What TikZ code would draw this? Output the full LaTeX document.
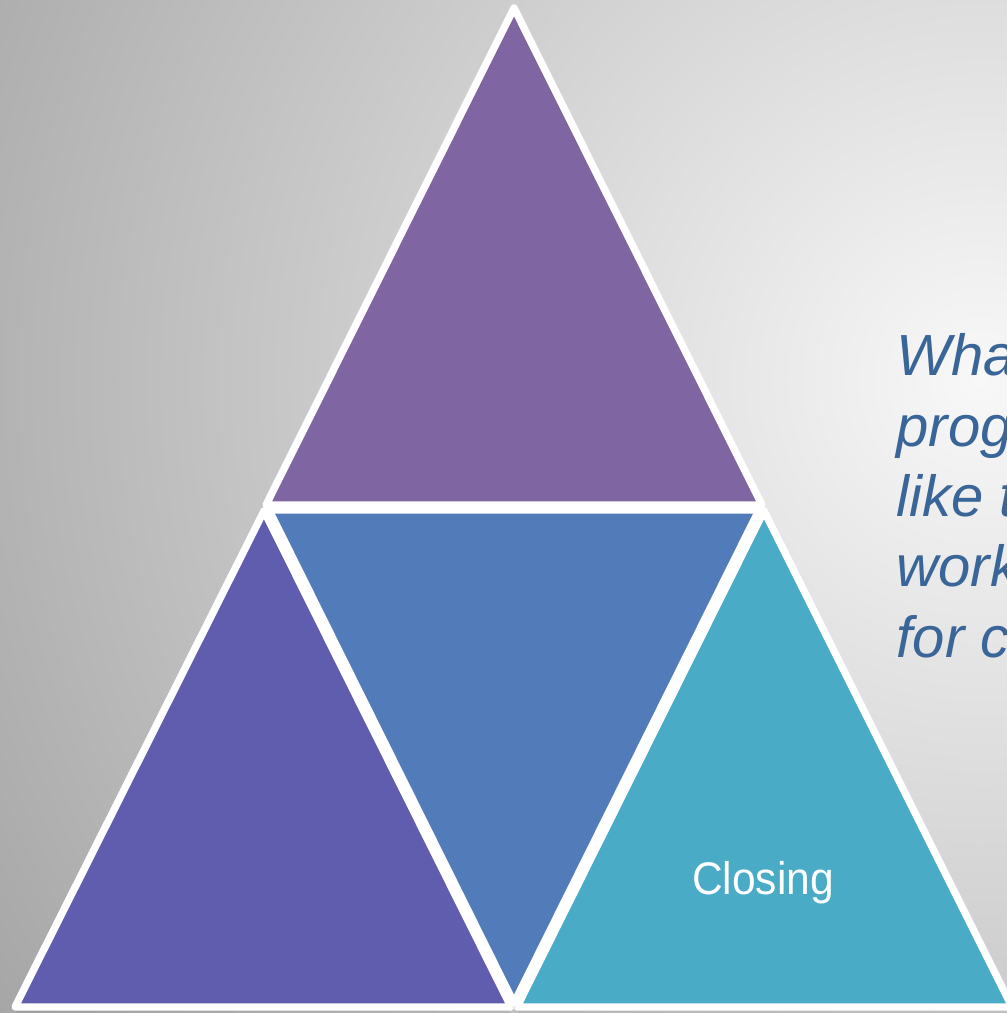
\documentclass[tikz,border=0pt]{standalone}
\usepackage{fontspec}
\setmainfont{Liberation Sans}
\newfontfamily\narrowsans[FakeStretch=0.93]{Liberation Sans}
\usetikzlibrary{shadows}

\definecolor{toppurple}{HTML}{8065A3}
\definecolor{leftviolet}{HTML}{605CAE}
\definecolor{midblue}{HTML}{527BBA}
\definecolor{rightteal}{HTML}{4AABC6}
\definecolor{asktext}{HTML}{3A6598}
\definecolor{backlight}{HTML}{F8F8F8}
\definecolor{backdark}{HTML}{A6A6A6}

\pgfdeclareradialshading{backdrop}{\pgfpoint{0bp}{0bp}}{color(0bp)=(backlight); color(331bp)=(backdark); color(420bp)=(backdark)}

\begin{document}
\begin{tikzpicture}[x=0.01cm,y=-0.01cm,
    tri/.style={draw=white,line width=2.1pt,line join=round,
      drop shadow={shadow xshift=0pt,shadow yshift=-2pt,opacity=0.18}}]
    \useasboundingbox (0,0) rectangle (1007,1013);
    \begin{scope}
      \clip (0,0) rectangle (1007,1013);
      \fill[backdark] (0,0) rectangle (1007,1013);
      \node[inner sep=0] (glow) at (980,380) {\pgfuseshading{backdrop}};
    \end{scope}

    % corners of the four triangles
    \coordinate (0) at (514,8);
    \coordinate (1) at (266,505);
    \coordinate (2) at (762,505);
    \coordinate (3) at (264,511);
    \coordinate (4) at (15,1007);
    \coordinate (5) at (511,1007);
    \coordinate (6) at (269,510);
    \coordinate (7) at (759,510);
    \coordinate (8) at (514,1003);
    \coordinate (9) at (764,511);
    \coordinate (10) at (517,1007);
    \coordinate (11) at (1012,1007);

    \path[tri,fill=toppurple] (0) -- (1) -- (2) -- cycle;
    \path[tri,fill=leftviolet] (3) -- (4) -- (5) -- cycle;
    \path[tri,fill=rightteal] (9) -- (10) -- (11) -- cycle;
    \path[tri,fill=midblue] (6) -- (7) -- (8) -- cycle;

    \node[anchor=base,inner sep=0,text=white,font=\narrowsans\fontsize{13}{15.6}\selectfont] (closing) at (763,894) {Closing};
    \node[anchor=north west,inner sep=0,align=left,text=asktext,font=\itshape\fontsize{16.5}{20}\selectfont] (ask) at (896,333) {Wha\\prog\\like t\\work\\for c};

  \end{tikzpicture}
\end{document}
